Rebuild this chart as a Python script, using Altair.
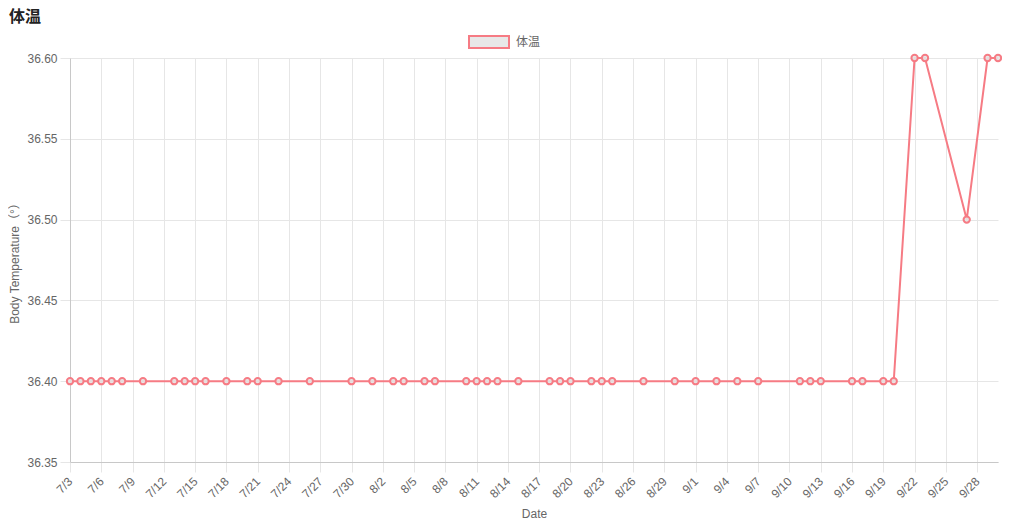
import altair as alt
import pandas as pd

YEAR = 2020
dates = ["7/3", "7/4", "7/5", "7/6", "7/7", "7/8", "7/10", "7/13", "7/14", "7/15",
         "7/16", "7/18", "7/20", "7/21", "7/23", "7/26", "7/30",
         "8/1", "8/3", "8/4", "8/6", "8/7", "8/10", "8/11", "8/12", "8/13",
         "8/15", "8/18", "8/19", "8/20", "8/22", "8/23", "8/24", "8/27", "8/30",
         "9/1", "9/3", "9/5", "9/7", "9/11", "9/12", "9/13", "9/16", "9/17",
         "9/19", "9/20", "9/22", "9/23", "9/27", "9/29", "9/30"]
temps = [36.4, 36.4, 36.4, 36.4, 36.4, 36.4, 36.4, 36.4, 36.4, 36.4,
         36.4, 36.4, 36.4, 36.4, 36.4, 36.4, 36.4,
         36.4, 36.4, 36.4, 36.4, 36.4, 36.4, 36.4, 36.4, 36.4,
         36.4, 36.4, 36.4, 36.4, 36.4, 36.4, 36.4, 36.4, 36.4,
         36.4, 36.4, 36.4, 36.4, 36.4, 36.4, 36.4, 36.4, 36.4,
         36.4, 36.4, 36.6, 36.6, 36.5, 36.6, 36.6]
tick_labels = ["7/3", "7/6", "7/9", "7/12", "7/15", "7/18", "7/21", "7/24", "7/27", "7/30",
               "8/2", "8/5", "8/8", "8/11", "8/14", "8/17", "8/20", "8/23", "8/26", "8/29",
               "9/1", "9/4", "9/7", "9/10", "9/13", "9/16", "9/19", "9/22", "9/25", "9/28"]
y_ticks = [36.35, 36.40, 36.45, 36.50, 36.55, 36.60]
x_range = ["7/3", "9/30"]
series_name = "体温"


def iso(md):
    m, d = md.split("/")
    return f"{YEAR}-{int(m):02d}-{int(d):02d}T00:00:00"


def dt(md):
    m, d = md.split("/")
    return alt.DateTime(year=YEAR, month=int(m), date=int(d))


df = pd.DataFrame({"date": [iso(d) for d in dates], "temp": temps,
                   "series": [series_name] * len(dates)})

RED = "#f67b84"
FONT = "Liberation Sans, Noto Sans CJK JP, sans-serif"

x = alt.X("date:T", title="Date",
          scale=alt.Scale(domain=[dt(x_range[0]), dt(x_range[1])]),
          axis=alt.Axis(values=[dt(t) for t in tick_labels], format="%-m/%-d",
                        labelAngle=315, labelAlign="right", labelBaseline="middle",
                        labelPadding=7, tickSize=10, labelOverlap=False,
                        titlePadding=9))
y = alt.Y("temp:Q", title="Body Temperature（°）",
          scale=alt.Scale(domain=[36.35, 36.60], nice=False, zero=False),
          axis=alt.Axis(values=y_ticks, format=".2f", tickSize=10, labelPadding=3,
                        titlePadding=5))

legend = alt.Legend(title=None, orient="none", legendX=398, legendY=-37,
                    symbolType="M-1,-0.3H1V0.3H-1Z", symbolSize=1600,
                    symbolStrokeWidth=2, labelFontSize=12,
                    labelColor="#666", labelFont=FONT, labelOffset=6)

line = alt.Chart(df).mark_line(color=RED, strokeWidth=2).encode(x=x, y=y)
points = alt.Chart(df).mark_point(size=40, strokeWidth=2, filled=False, opacity=1).encode(
    x=x, y=y,
    stroke=alt.Stroke("series:N", scale=alt.Scale(domain=[series_name], range=[RED]),
                      legend=legend),
    fill=alt.Fill("series:N", scale=alt.Scale(domain=[series_name], range=["#e6e6e6"]),
                  legend=legend),
)

chart = (line + points).properties(
    width=928, height=404,
    autosize=alt.AutoSizeParams(type="none"),
    padding={"left": 62, "top": 50, "right": 4, "bottom": 60},
    title=alt.TitleParams(series_name, anchor="start", frame="group", dx=-61, dy=16,
                          offset=12, fontSize=16, fontWeight="bold", color="#222",
                          font=FONT),
).configure_view(stroke=None).configure_axis(
    labelFont=FONT, titleFont=FONT, labelFontSize=12, titleFontSize=12,
    labelColor="#666", titleColor="#666", titleFontWeight="normal",
    gridColor="#e6e6e6", tickColor="#e6e6e6", domainColor="#c8c8c8",
).configure_point(fillOpacity=0.9)

chart.save("out.html", embed_options={"renderer": "svg", "actions": False})
